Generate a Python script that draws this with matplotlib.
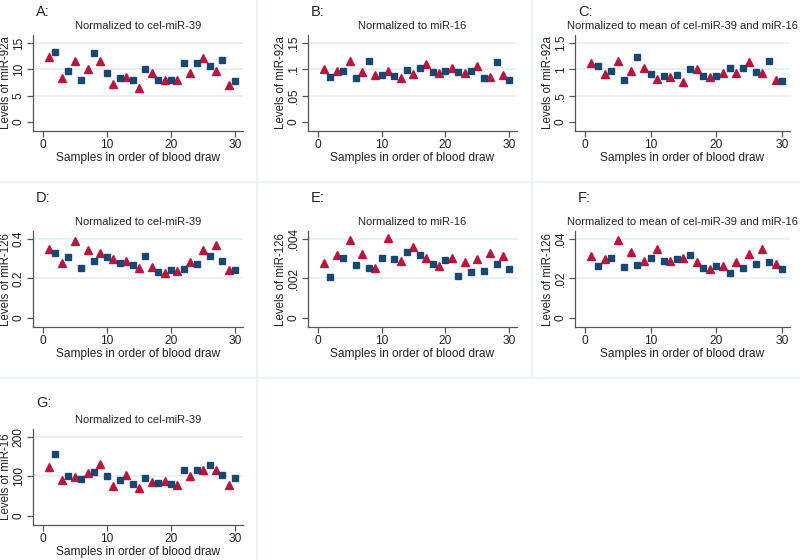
import numpy as np
from matplotlib import pyplot as plt
from matplotlib.lines import Line2D

samples = np.arange(1, 31)

mir92a_cel39 = [12.3, 13.3, 8.4, 9.7, 11.5, 7.9, 10.1, 13.1, 11.6, 9.2,
                7.2, 8.3, 8.5, 8.0, 6.5, 10.0, 9.2, 7.9, 8.0, 8.0,
                8.0, 11.1, 9.2, 11.2, 12.2, 10.6, 9.7, 11.8, 7.0, 7.7]
mir92a_mir16 = [0.100, 0.085, 0.096, 0.096, 0.116, 0.083, 0.094, 0.115, 0.090, 0.090,
                0.096, 0.088, 0.084, 0.099, 0.091, 0.103, 0.109, 0.094, 0.092, 0.097,
                0.103, 0.094, 0.092, 0.096, 0.106, 0.083, 0.085, 0.113, 0.090, 0.079]
mir92a_mean = [1.12, 1.06, 0.91, 0.96, 1.15, 0.80, 0.97, 1.23, 1.03, 0.91,
               0.82, 0.87, 0.85, 0.89, 0.76, 1.01, 1.01, 0.87, 0.85, 0.88,
               0.92, 1.02, 0.92, 1.03, 1.14, 0.94, 0.92, 1.15, 0.79, 0.77]
mir126_cel39 = [0.347, 0.328, 0.279, 0.309, 0.390, 0.251, 0.344, 0.289, 0.328, 0.308,
                0.299, 0.279, 0.289, 0.270, 0.255, 0.313, 0.260, 0.232, 0.229, 0.241,
                0.236, 0.248, 0.282, 0.274, 0.344, 0.311, 0.369, 0.287, 0.241, 0.243]
mir126_mir16 = [0.00280, 0.00208, 0.00316, 0.00302, 0.00395, 0.00266, 0.00322, 0.00254, 0.00252, 0.00302,
                0.00405, 0.00297, 0.00286, 0.00336, 0.00360, 0.00321, 0.00305, 0.00274, 0.00264, 0.00292,
                0.00302, 0.00211, 0.00285, 0.00233, 0.00298, 0.00238, 0.00328, 0.00273, 0.00314, 0.00249]
mir126_mean = [0.0312, 0.0261, 0.0300, 0.0305, 0.0392, 0.0259, 0.0334, 0.0269, 0.0288, 0.0303,
               0.0349, 0.0288, 0.0290, 0.0300, 0.0303, 0.0317, 0.0285, 0.0253, 0.0249, 0.0264,
               0.0264, 0.0229, 0.0285, 0.0253, 0.0322, 0.0271, 0.0347, 0.0281, 0.0275, 0.0247]
mir16_cel39 = [125, 157, 90, 101, 99, 94, 108, 112, 131, 101,
               75, 92, 103, 81, 71, 95, 86, 83, 88, 82,
               78, 117, 100, 116, 117, 128, 115, 103, 78, 97]

letters = ['A:', 'B:', 'C:', 'D:', 'E:', 'F:', 'G:']
subtitles = ['Normalized to cel-miR-39', 'Normalized to miR-16',
             'Normalized to mean of cel-miR-39 and miR-16'] * 2 + ['Normalized to cel-miR-39']
ylabels = ['Levels of miR-92a'] * 3 + ['Levels of miR-126'] * 3 + ['Levels of miR-16']
yticks = [[0, 5, 10, 15], [0, 0.05, 0.1, 0.15], [0, 0.5, 1, 1.5],
          [0, 0.2, 0.4], [0, 0.002, 0.004], [0, 0.02, 0.04], [0, 100, 200]]
yticklabels = [['0', '5', '10', '15'], ['0', '.05', '.1', '.15'], ['0', '.5', '1', '1.5'],
               ['0', '0.2', '0.4'], ['0', '.002', '.004'], ['0', '.02', '.04'], ['0', '100', '200']]
values = [mir92a_cel39, mir92a_mir16, mir92a_mean, mir126_cel39, mir126_mir16, mir126_mean, mir16_cel39]

W, H = 800, 560
NAVY = '#1a476f'
RED = '#b8163f'
GRID = '#e4eef0'
BORDER = '#edf2f3'

plt.rcParams['font.family'] = ['Liberation Sans', 'DejaVu Sans']
fig = plt.figure(figsize=(8, 5.6), dpi=100)
fig.patch.set_facecolor('white')

col_left = [33, 308, 575]
col_right = [243, 517, 790]
row_top = [35, 231, 429]
row_bot = [131, 327, 525]
letter_y = [12, 198, 403]

# light dividers between panels
dividers = [([257, 257], [0, 560]), ([532, 532], [0, 378]),
            ([0, 800], [182, 182]), ([0, 800], [378, 378])]
for xs, ys in dividers:
    fig.add_artist(Line2D([x / W for x in xs], [1 - y / H for y in ys], color=BORDER, lw=1.5))

for i in range(7):
    r, c = divmod(i, 3)
    l, rt, t, b = col_left[c], col_right[c], row_top[r], row_bot[r]
    ax = fig.add_axes([l / W, 1 - b / H, (rt - l) / W, (b - t) / H])
    ymax = yticks[i][-1]
    y = np.array(values[i])
    odd = samples % 2 == 1
    for v in yticks[i][1:]:
        ax.axhline(v, color=GRID, lw=1.2, zorder=0)
    ax.plot(samples[odd], y[odd], '^', color=RED, ms=5.2, mec=RED, zorder=3)
    ax.plot(samples[~odd], y[~odd], 's', color=NAVY, ms=5.0, mec=NAVY, zorder=3)
    ax.set_xlim(-1.5, 31.2)
    ax.set_ylim(-0.115 * ymax, 1.1 * ymax)
    ax.set_xticks([0, 10, 20, 30])
    ax.set_yticks(yticks[i])
    ax.set_yticklabels(yticklabels[i], rotation=90, va='center')
    for s in ['top', 'right']:
        ax.spines[s].set_visible(False)
    for s in ['left', 'bottom']:
        ax.spines[s].set_color('#555555')
        ax.spines[s].set_linewidth(0.9)
    ax.tick_params(length=4.5, width=0.9, color='#555555', labelsize=8.6, pad=1.5, labelcolor='#222222')
    ax.set_xlabel('Samples in order of blood draw', fontsize=8.6, labelpad=0.5, color='#222222')
    fig.text((l - 27) / W, 1 - ((t + b) / 2) / H, ylabels[i], rotation=90,
             ha='center', va='center', fontsize=8.3, color='#222222')
    fig.text((l + 3) / W, 1 - letter_y[r] / H, letters[i], ha='left', va='center',
             fontsize=10.5, color='#222222')
    fig.text(((l + rt) / 2) / W, 1 - (t - 9) / H, subtitles[i], ha='center', va='center',
             fontsize=8, color='#222222')

plt.savefig('out.png', dpi=100)
